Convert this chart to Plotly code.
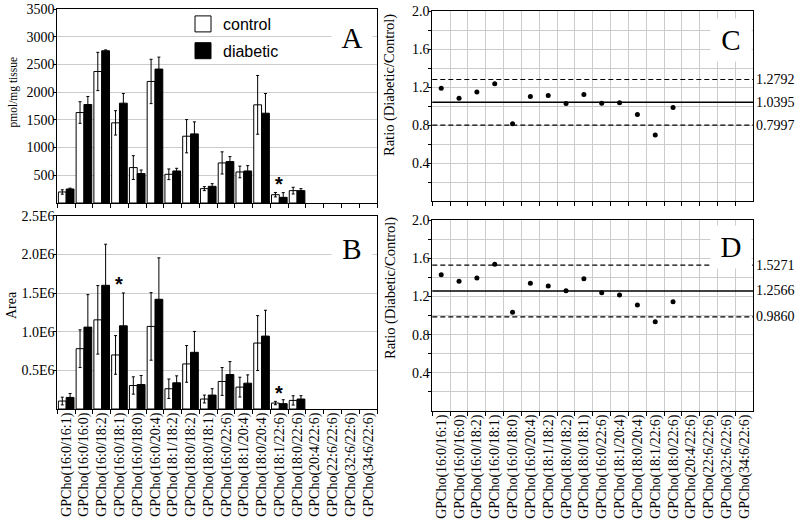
import plotly.graph_objects as go

categories = ["GPCho(16:0/16:1)", "GPCho(16:0/16:0)", "GPCho(16:0/18:2)", "GPCho(16:0/18:1)",
              "GPCho(16:0/18:0)", "GPCho(16:0/20:4)", "GPCho(18:1/18:2)", "GPCho(18:0/18:2)",
              "GPCho(18:0/18:1)", "GPCho(16:0/22:6)", "GPCho(18:1/20:4)", "GPCho(18:0/20:4)",
              "GPCho(18:1/22:6)", "GPCho(18:0/22:6)", "GPCho(20:4/22:6)", "GPCho(22:6/22:6)",
              "GPCho(32:6/22:6)", "GPCho(34:6/22:6)"]
measured = categories[:14]

# Panel A: pmol/mg tissue
control_A = [199, 1632, 2373, 1446, 639, 2193, 518, 1205, 259, 723, 560, 1771, 150, 223]
control_A_err = [40, 195, 345, 220, 215, 400, 96, 300, 36, 200, 105, 530, 40, 60]
diabetic_A = [253, 1777, 2747, 1801, 530, 2416, 578, 1247, 301, 747, 578, 1620, 102, 223]
diabetic_A_err = [15, 145, 15, 175, 65, 216, 48, 217, 48, 90, 96, 355, 85, 36]

# Panel B: Area
control_B = [103e3, 780e3, 1153e3, 699e3, 304e3, 1068e3, 262e3, 583e3, 129e3, 356e3, 283e3, 853e3, 77e3, 111e3]
control_B_err = [50e3, 244e3, 443e3, 250e3, 112e3, 437e3, 126e3, 237e3, 51e3, 180e3, 128e3, 355e3, 22e3, 60e3]
diabetic_B = [150e3, 1059e3, 1600e3, 1076e3, 317e3, 1419e3, 339e3, 733e3, 180e3, 446e3, 334e3, 943e3, 69e3, 129e3]
diabetic_B_err = [50e3, 420e3, 531e3, 425e3, 116e3, 536e3, 90e3, 270e3, 82e3, 167e3, 107e3, 334e3, 51e3, 43e3]

# Panels C, D: ratios
ratio_C = [1.186, 1.082, 1.148, 1.235, 0.814, 1.099, 1.110, 1.026, 1.120, 1.030, 1.033, 0.911, 0.696, 0.984]
ratio_D = [1.428, 1.358, 1.393, 1.536, 1.033, 1.337, 1.309, 1.260, 1.386, 1.239, 1.215, 1.110, 0.935, 1.145]
lines_C = {"upper": 1.2792, "mean": 1.0395, "lower": 0.7997}
lines_D = {"upper": 1.5271, "mean": 1.2566, "lower": 0.9860}

# significance markers: (category index, y)
stars_A = [(12, 415)]
stars_B = [(3, 1.654e6), (12, 2.42e5)]

A_ticks = [500, 1000, 1500, 2000, 2500, 3000, 3500]
B_ticks = [0.5e6, 1.0e6, 1.5e6, 2.0e6, 2.5e6]
B_ticktext = ["0.5E6", "1.0E6", "1.5E6", "2.0E6", "2.5E6"]
R_ticks = [0.2, 0.4, 0.6, 0.8, 1.0, 1.2, 1.4, 1.6, 1.8, 2.0]
R_ticktext = ["", "0.4", "", "0.8", "", "1.2", "", "1.6", "", "2.0"]

W, H = 800, 521
SERIF = "Liberation Serif"
SANS = "Liberation Sans"

def px_x(a, b):
    return [a / W, b / W]

def px_y(top, bottom):
    return [1 - bottom / H, 1 - top / H]

fig = go.Figure()

err_style = dict(type="data", thickness=1, width=1.5, color="black")
ctrl_marker = dict(color="white", line=dict(color="black", width=1))
diab_marker = dict(color="black", line=dict(color="black", width=1))

fig.add_trace(go.Bar(x=measured, y=control_A, name="control", showlegend=False, marker=ctrl_marker,
                     error_y=dict(array=control_A_err, **err_style), xaxis="x", yaxis="y", legendgroup="c"))
fig.add_trace(go.Bar(x=measured, y=diabetic_A, name="diabetic", showlegend=False, marker=diab_marker,
                     error_y=dict(array=diabetic_A_err, **err_style), xaxis="x", yaxis="y", legendgroup="d"))
fig.add_trace(go.Bar(x=measured, y=control_B, name="control", showlegend=False, marker=ctrl_marker,
                     error_y=dict(array=control_B_err, **err_style), xaxis="x2", yaxis="y2", legendgroup="c"))
fig.add_trace(go.Bar(x=measured, y=diabetic_B, name="diabetic", showlegend=False, marker=diab_marker,
                     error_y=dict(array=diabetic_B_err, **err_style), xaxis="x2", yaxis="y2", legendgroup="d"))
fig.add_trace(go.Scatter(x=measured, y=ratio_C, mode="markers", showlegend=False, marker=dict(color="black", size=5),
                         xaxis="x3", yaxis="y3"))
fig.add_trace(go.Scatter(x=measured, y=ratio_D, mode="markers", showlegend=False, marker=dict(color="black", size=5),
                         xaxis="x4", yaxis="y4"))
# legend entries (larger square swatches like the reference)
fig.add_trace(go.Scatter(x=[None], y=[None], mode="markers", name="control", legendgroup="c",
                         marker=dict(symbol="square", size=16, color="white", line=dict(color="black", width=1)),
                         xaxis="x", yaxis="y"))
fig.add_trace(go.Scatter(x=[None], y=[None], mode="markers", name="diabetic", legendgroup="d",
                         marker=dict(symbol="square", size=16, color="black", line=dict(color="black", width=1)),
                         xaxis="x", yaxis="y"))

tickfont = dict(family=SERIF, size=14, color="black")
catfont = dict(family=SERIF, size=14, color="black")

def xax(domain, anchor, labels):
    return dict(domain=domain, anchor=anchor, type="category", categoryorder="array", categoryarray=categories,
                range=[-0.5, 17.5], tickson="boundaries", ticks="outside", ticklen=4, tickcolor="black",
                showline=True, linecolor="black", linewidth=1, mirror=True, tickangle=-90, automargin=False,
                showticklabels=labels, tickfont=catfont, ticklabelstandoff=-3, fixedrange=True)

def yax(domain, anchor, rng, tv, tt, grid_color="#cccccc"):
    return dict(domain=domain, anchor=anchor, range=rng, tickvals=tv, ticktext=tt, ticks="outside", ticklen=3,
                tickcolor="black", showline=True, linecolor="black", linewidth=1, mirror=True, automargin=False,
                showgrid=True, gridcolor=grid_color, gridwidth=1, zeroline=False, tickfont=tickfont,
                ticklabelstandoff=-4, fixedrange=True)

xA = px_x(57.3, 377)
xC = px_x(432.3, 753.3)
yA = px_y(9, 203)
yB = px_y(215.7, 409)
yC = px_y(11, 201)
yD = px_y(220, 411)

fig.update_layout(
    width=W, height=H, margin=dict(l=0, r=0, t=0, b=0, autoexpand=False),
    paper_bgcolor="white", plot_bgcolor="white",
    barmode="group", bargap=0.12, bargroupgap=0,
    xaxis=xax(xA, "y", False),
    yaxis=yax(yA, "x", [0, 3500], A_ticks, [str(v) for v in A_ticks]),
    xaxis2=xax(xA, "y2", True),
    yaxis2=yax(yB, "x2", [0, 2.5e6], B_ticks, B_ticktext),
    xaxis3=dict(xax(xC, "y3", False), showgrid=True, gridcolor="#cccccc"),
    yaxis3=yax(yC, "x3", [0, 2.0], R_ticks, R_ticktext),
    xaxis4=dict(xax(xC, "y4", True), showgrid=True, gridcolor="#cccccc"),
    yaxis4=yax(yD, "x4", [0, 2.0], R_ticks, R_ticktext),
    legend=dict(x=183 / W, y=1 - 7 / H, xanchor="left", yanchor="top", bgcolor="rgba(0,0,0,0)",
                font=dict(family=SANS, size=16, color="black"), tracegroupgap=3, itemsizing="trace"),
    showlegend=True,
)

shapes = []
for (xr, yr, vals) in [("x3", "y3", lines_C), ("x4", "y4", lines_D)]:
    for key, v in vals.items():
        shapes.append(dict(type="line", xref=xr + " domain", yref=yr, x0=0, x1=1, y0=v, y1=v,
                           line=dict(color="black", width=1.5 if key == "mean" else 1.2,
                                     dash="solid" if key == "mean" else "5px,3px"), layer="above"))
fig.update_layout(shapes=shapes)

ann = []
# panel letters
for letter, xr, yr, yc in [("A", "x", "y", 0.85), ("B", "x2", "y2", 0.83), ("C", "x3", "y3", 0.85), ("D", "x4", "y4", 0.86)]:
    ann.append(dict(text=letter, xref=xr + " domain", yref=yr + " domain", x=0.922 if letter in "AB" else 0.93,
                    y=yc, xanchor="center", yanchor="middle", showarrow=False, bgcolor="white",
                    width=40, height=42, borderpad=0, font=dict(family=SERIF, size=29, color="black")))
# mean / limit labels
for xr, yr, vals in [("x3", "y3", lines_C), ("x4", "y4", lines_D)]:
    for key, v in vals.items():
        ann.append(dict(text=f"{v:.4f}", xref=xr + " domain", yref=yr, x=1, y=v, xanchor="left", yanchor="middle",
                        xshift=1, showarrow=False, font=dict(family=SERIF, size=14, color="black")))
# stars
for idx, yv in stars_A:
    ann.append(dict(text="<b>*</b>", xref="x", yref="y", x=categories[idx], y=yv, showarrow=False,
                    yanchor="middle", yshift=-4, font=dict(family=SANS, size=20, color="black")))
for idx, yv in stars_B:
    ann.append(dict(text="<b>*</b>", xref="x2", yref="y2", x=categories[idx], y=yv, showarrow=False,
                    yanchor="middle", yshift=-3, font=dict(family=SANS, size=20, color="black")))
# y titles
titles = [("pmol/mg tissue", 12.5, 92, 11.5), ("Area", 11, 305, 14),
          ("Ratio (Diabetic/Control)", 390, 85, 14.5), ("Ratio (Diabetic/Control)", 390, 288, 14.5)]
for t, xp, yp, fs in titles:
    ann.append(dict(text=t, xref="paper", yref="paper", x=xp / W, y=1 - yp / H, xanchor="center", yanchor="middle",
                    textangle=-90, showarrow=False, font=dict(family=SERIF, size=fs, color="black")))
fig.update_layout(annotations=ann)

fig.write_html("out.html", config={"displayModeBar": False},
               post_script="document.body.style.margin='0';document.body.style.overflow='hidden';")
